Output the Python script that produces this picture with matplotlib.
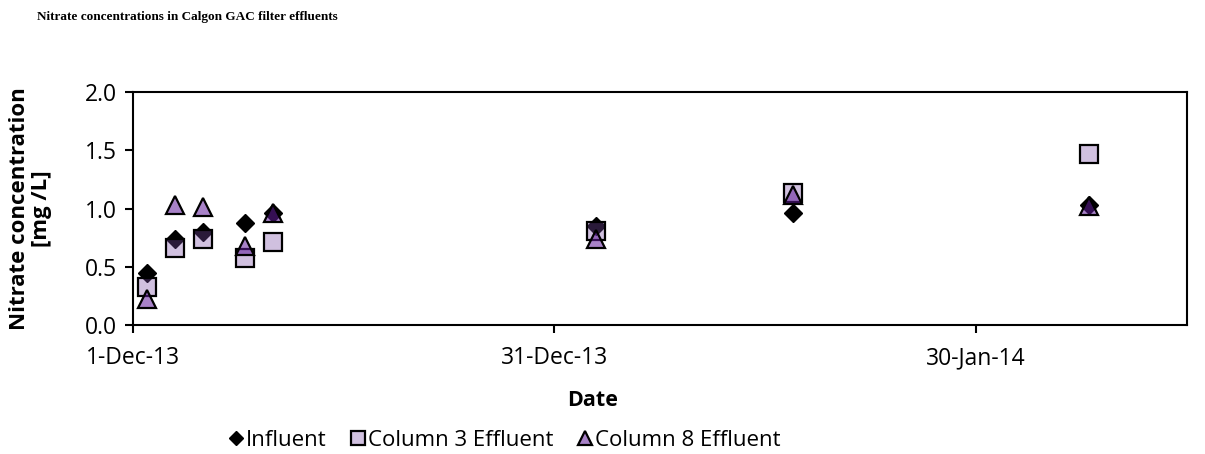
import datetime as dt

import matplotlib
matplotlib.use("Agg")
import matplotlib.dates as mdates
import matplotlib.pyplot as plt
from matplotlib.ticker import FuncFormatter, MultipleLocator

plt.rcParams["font.family"] = ["Open Sans", "DejaVu Sans"]

# sampling dates and nitrate readings (mg/L)
dates = [dt.date(2013, 12, 2), dt.date(2013, 12, 4), dt.date(2013, 12, 6),
         dt.date(2013, 12, 9), dt.date(2013, 12, 11), dt.date(2014, 1, 3),
         dt.date(2014, 1, 17), dt.date(2014, 2, 7)]
influent = [0.45, 0.74, 0.80, 0.88, 0.96, 0.85, 0.96, 1.03]
column3 = [0.33, 0.66, 0.74, 0.58, 0.71, 0.81, 1.13, 1.47]
column8 = [0.22, 1.03, 1.01, 0.68, 0.96, 0.74, 1.12, 1.02]

# axis range and 30-day tick dates
x_start, x_end = dt.date(2013, 12, 1), dt.date(2014, 2, 14)
tick_dates = [dt.date(2013, 12, 1), dt.date(2013, 12, 31), dt.date(2014, 1, 30)]

fig = plt.figure(figsize=(12.05, 4.54), dpi=100)
ax = fig.add_axes([0.110, 0.284, 0.875, 0.513])

ax.plot(dates, influent, ls="none", marker="D", ms=9.5,
        mfc="black", mec="black", label="Influent")
ax.plot(dates, column3, ls="none", marker="s", ms=13, mew=1.6,
        mfc=(121/255, 75/255, 166/255, 0.35), mec="black",
        label="Column 3 Effluent")
ax.plot(dates, column8, ls="none", marker="^", ms=13.5, mew=1.6,
        mfc=(97/255, 28/255, 155/255, 0.55), mec="black",
        label="Column 8 Effluent")

ax.set_xlim(mdates.date2num(x_start), mdates.date2num(x_end))
ax.set_ylim(0, 2.0)
ax.set_xticks(mdates.date2num(tick_dates))
ax.set_xticklabels([f"{d.day}-{d:%b-%y}" for d in tick_dates])
ax.yaxis.set_major_locator(MultipleLocator(0.5))
ax.yaxis.set_major_formatter(FuncFormatter(lambda v, pos: f"{v:.1f}"))

for s in ax.spines.values():
    s.set_linewidth(1.5)
ax.tick_params(direction="out", length=6, width=1.5, labelsize=16.5)
ax.tick_params(axis="x", pad=9)
ax.tick_params(axis="y", pad=5)

ax.set_xlabel("Date", fontsize=15.5, fontweight="bold")
ax.xaxis.set_label_coords(0.436, -0.28)
ax.set_ylabel("Nitrate concentration\n[mg /L]", fontsize=16,
              fontweight="bold", linespacing=1.1)
ax.yaxis.set_label_coords(-0.076, 0.5)

fig.text(0.031, 0.962, "Nitrate concentrations in Calgon GAC filter effluents",
         family="Liberation Serif", fontsize=9.5, fontweight="bold",
         va="center")

fig.legend(loc="center", bbox_to_anchor=(0.418, 0.03), ncol=3, frameon=False,
           fontsize=16, handletextpad=0.05, columnspacing=1.0,
           handlelength=0.8, markerscale=0.75)

fig.savefig("out.png", dpi=100)
